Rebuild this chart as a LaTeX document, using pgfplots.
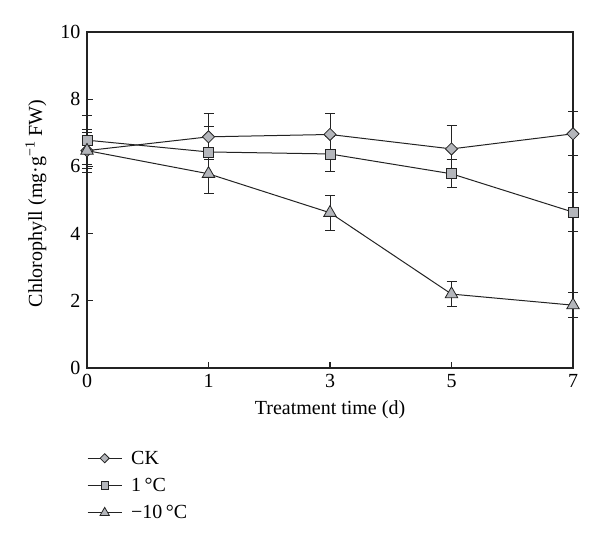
\documentclass[border=0pt]{standalone}
\usepackage{pgfplots}
\pgfplotsset{compat=1.18}
\usepackage{fontspec}
\setmainfont{Liberation Serif}
\definecolor{mk}{RGB}{180,182,187}
\definecolor{ax}{RGB}{35,35,35}
\newcommand{\fs}{\fontsize{20}{23}\selectfont}
\begin{document}
\begin{tikzpicture}[x=1pt,y=1pt]
\path[use as bounding box] (0,0) rectangle (600,546);
\begin{axis}[
  at={(87pt,178pt)}, anchor=south west,
  scale only axis, width=486pt, height=336pt,
  xmin=0, xmax=4, ymin=0, ymax=10,
  xtick={0,1,2,3,4}, xticklabels={0,1,3,5,7},
  ytick={0,2,...,10},
  tick align=inside, xtick pos=bottom, ytick pos=left,
  major tick length=6pt,
  axis line style={line width=1.2pt, ax},
  tick style={line width=1.2pt, ax},
  /pgf/number format/assume math mode=true,
  tick label style={font=\fs},
  yticklabel style={xshift=-3pt},
  xticklabel style={yshift=-3pt},
  label style={font=\fs},
  xlabel={Treatment time (d)},
  ylabel={Chlorophyll (mg·g\textsuperscript{−1} FW)},
  xlabel style={at={(axis description cs:0.5,-0.125)}, anchor=center},
  ylabel style={at={(axis description cs:-0.105,0.49)}, anchor=center},
  clip=false,
  legend style={at={(axis description cs:0,-0.24)}, anchor=north west, draw=none, fill=none,
    font=\fs, row sep=8.5pt, inner sep=0pt, cells={anchor=west},
    /tikz/every odd column/.append style={column sep=7pt}},
  legend image code/.code={\draw[#1,mark repeat=2,mark phase=2,/tikz/every mark/.append style={scale=0.75}] plot coordinates {(0pt,0pt) (17pt,0pt) (34pt,0pt)};},
  every axis plot/.append style={line width=1pt, ax},
  error bars/error bar style={line width=1pt, ax},
  error bars/error mark options={rotate=90, mark size=5pt, line width=1pt, ax},
]
\addplot[mark=square*, mark options={rotate=45, mark size=4.3pt, fill=mk, draw=ax, line width=0.8pt},
  error bars/.cd, y dir=both, y explicit]
  coordinates {(0,6.47) +- (0,0.64) (1,6.88) +- (0,0.68) (2,6.95) +- (0,0.61) (3,6.52) +- (0,0.69) (4,6.97) +- (0,0.65)};
\addlegendentry{CK}
\addplot[mark=square*, mark options={mark size=5pt, fill=mk, draw=ax, line width=0.8pt},
  error bars/.cd, y dir=both, y explicit]
  coordinates {(0,6.78) +- (0,0.72) (1,6.43) +- (0,0.77) (2,6.37) +- (0,0.51) (3,5.78) +- (0,0.42) (4,4.64) +- (0,0.59)};
\addlegendentry{1\,°C}
\addplot[mark=triangle*, mark options={mark size=7.2pt, fill=mk, draw=ax, line width=0.8pt},
  error bars/.cd, y dir=both, y explicit]
  coordinates {(0,6.47) +- (0,0.53) (1,5.78) +- (0,0.6) (2,4.62) +- (0,0.52) (3,2.2) +- (0,0.36) (4,1.87) +- (0,0.37)};
\addlegendentry{−10\,°C}
\end{axis}
\end{tikzpicture}
\end{document}
